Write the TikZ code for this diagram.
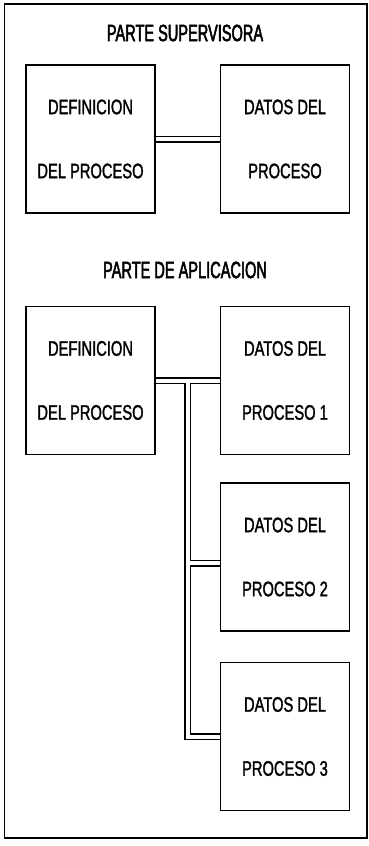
\documentclass[tikz,border=0pt]{standalone}
\usepackage{fontspec}
\setmainfont{Liberation Sans}[FakeStretch=0.7,FakeBold=1.5]
\newfontfamily\titlefont{Liberation Sans}[FakeStretch=0.62,FakeBold=2.2]
\usetikzlibrary{positioning,backgrounds,calc}

\begin{document}
\begin{tikzpicture}[x=1pt, y=-1pt, node distance=64pt,
	box/.style={draw, line width=1.5pt, minimum width=129pt, minimum height=148pt,
		inner sep=0pt, align=center, font=\fontsize{21}{64}\selectfont},
	title/.style={font=\titlefont\fontsize{23.5}{28}\selectfont},
	wire/.style={line width=7pt},
	wirein/.style={line width=4pt, white}]
	\useasboundingbox (0,0) rectangle (369,846);
	\draw [line width=1.5pt] (4.5,4) rectangle (367,838);

	% Titles
	\node [title] (tsup) at (185,33)  {PARTE SUPERVISORA};
	\node [title] (tapl) at (185,270) {PARTE DE APLICACION};

	% Nodes {defsup, datsup, defapl, dat1, dat2, dat3}
	\node [box] (defsup) at (90.5,139)        {DEFINICION\\DEL PROCESO};
	\node [box] (datsup) [right=of defsup]     {DATOS DEL\\PROCESO};
	\node [box] (defapl) [below=92pt of defsup] {DEFINICION\\DEL PROCESO};
	\node [box] (dat1)   [right=of defapl]     {DATOS DEL\\PROCESO 1};
	\node [box] (dat2)   [below=27pt of dat1]  {DATOS DEL\\PROCESO 2};
	\node [box] (dat3)   [below=30pt of dat2]  {DATOS DEL\\PROCESO 3};

	\coordinate (trunk) at ($(defapl.east)!0.5!(dat1.west)$);
	\coordinate (j2) at ([yshift=-6pt]dat2.west);

	% Paths (double lines: black first, then white inside)
	\begin{scope}[on background layer]
	\foreach \st in {wire, wirein} {
		\draw [\st] (defsup.east) -- (datsup.west);
		\draw [\st] (defapl.east) -- (dat1.west);
		\draw [\st] (trunk) |- (dat3.west);
		\draw [\st] (trunk |- j2) -- (j2);
	}
	\end{scope}
\end{tikzpicture}
\end{document}
